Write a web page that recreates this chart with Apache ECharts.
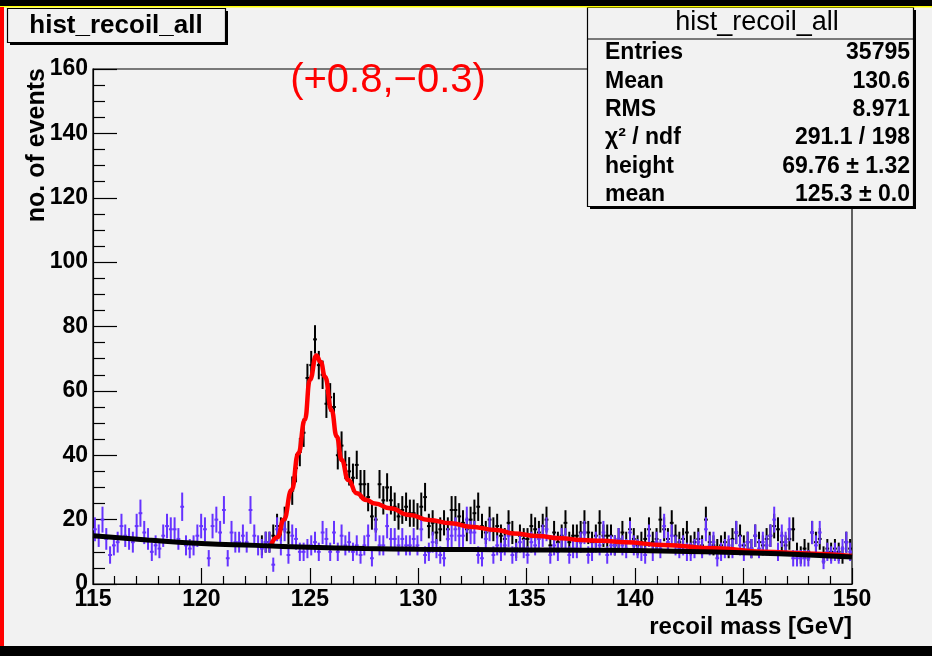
<!DOCTYPE html>
<html>
<head>
<meta charset="utf-8">
<title>hist_recoil_all</title>
<script src="https://cdn.jsdelivr.net/npm/echarts@6.0.0/dist/echarts.min.js"></script>
<style>
	html, body {
		margin: 0;
		padding: 0;
		background: #f2f2f2;
	}
	#main {
		width: 932px;
		height: 656px;
	}
</style>
</head>
<body>
<div id="main"></div>
<script>
	// histogram binning (GeV)
	var binLow = 115;
	var binWidth = 0.175;

	// background-only sample, 200 bins from 115 to 150
	var blueCounts = [
		17, 15, 20, 14, 9, 12, 13, 18, 15, 14,
		13, 18, 22, 16, 14, 10, 12, 11, 15, 18,
		17, 17, 14, 24, 12, 11, 12, 15, 18, 17,
		8, 18, 20, 16, 23, 8, 16, 13, 13, 15,
		13, 23, 15, 12, 11, 13, 13, 6, 17, 12,
		17, 9, 15, 14, 10, 10, 11, 12, 13, 10,
		16, 14, 10, 16, 10, 15, 12, 13, 10, 12,
		9, 12, 15, 8, 17, 12, 12, 18, 14, 14,
		12, 14, 12, 12, 14, 12, 17, 9, 10, 13,
		11, 9, 8, 14, 15, 17, 15, 15, 20, 16,
		16, 9, 8, 14, 17, 9, 12, 10, 12, 15,
		9, 10, 13, 11, 9, 13, 12, 14, 15, 17,
		9, 12, 10, 14, 14, 9, 11, 11, 13, 16,
		9, 10, 13, 12, 16, 9, 12, 12, 14, 12,
		11, 16, 12, 11, 10, 9, 15, 10, 13, 11,
		18, 13, 15, 12, 11, 12, 10, 10, 11, 13,
		11, 17, 12, 13, 8, 10, 11, 12, 11, 16,
		12, 10, 13, 11, 15, 11, 13, 12, 15, 20,
		10, 15, 13, 17, 8, 8, 8, 8, 8, 16,
		12, 16, 7, 10, 9, 10, 9, 11, 13, 10
	];

	// signal + background sample, visible from bin 44 on (below it sits under the blue points)
	var blackStartBin = 44;
	var blackCounts = [
		12, 13, 13, 15, 18, 17, 20, 16, 29, 36,
		41, 47, 64, 68, 76, 68, 65, 56, 58, 55,
		40, 43, 37, 35, 33, 37, 31, 31, 27, 21,
		20, 31, 26, 30, 26, 24, 21, 23, 24, 22,
		22, 21, 24, 27, 18, 19, 16, 17, 19, 17,
		23, 23, 21, 19, 17, 20, 22, 24, 18, 16,
		20, 17, 18, 15, 14, 19, 16, 11, 15, 14,
		14, 18, 17, 16, 18, 20, 12, 16, 13, 15,
		19, 13, 15, 15, 16, 19, 16, 13, 15, 19,
		15, 15, 15, 12, 14, 16, 13, 17, 14, 12,
		13, 14, 17, 13, 14, 20, 17, 14, 19, 15,
		13, 14, 16, 12, 13, 14, 12, 20, 13, 12,
		11, 12, 13, 11, 14, 16, 15, 12, 13, 11,
		15, 13, 12, 14, 15, 18, 17, 13, 12, 14,
		17, 10, 9, 11, 10, 16, 13, 14, 9, 11,
		10, 11, 10, 9, 13, 11
	];

	// signal+background fit (red)
	var fitX = [123.2, 123.5, 123.8, 124.16, 124.47, 124.77, 125.0, 125.3, 125.5, 125.7,
		126.0, 126.24, 126.47, 126.77, 127.16, 127.6, 128.0, 128.7, 129.6, 130.5,
		131.5, 132.4, 133.6, 134.4, 135.5, 136.6, 137.5, 138.5, 139.5, 141.3,
		143.75, 145.9, 147.9, 150];
	var fitY = [12.0, 14.5, 20.0, 29.2, 40.6, 51.0, 63.4, 71.0, 69.0, 64.4,
		54.0, 45.8, 38.5, 32.3, 28.2, 26.1, 25.0, 23.5, 21.4, 19.9,
		18.9, 17.8, 16.8, 15.7, 14.9, 14.2, 13.7, 13.4, 13.0, 12.1,
		11.1, 10.0, 9.5, 8.7];

	// background fit (black)
	var bkgX = [115, 117.5, 120, 122.5, 125, 127.5, 130, 132.5, 135, 137.5, 140, 142.5, 145, 147.5, 150];
	var bkgY = [15.0, 13.7, 12.6, 12.0, 11.4, 11.0, 10.8, 10.7, 10.6, 10.5, 10.4, 10.1, 9.7, 9.2, 8.4];

	// stats box
	var statsTitle = 'hist_recoil_all';
	var statsLabels = ['Entries', 'Mean', 'RMS', 'χ² / ndf', 'height', 'mean'];
	var statsValues = ['35795', '130.6', '8.971', '291.1 / 198', '69.76 ± 1.32', '125.3 ± 0.0'];

	var font = '"Liberation Sans", Arial, Helvetica, sans-serif';

	// weighted histogram: error bars saturate for the large bins
	function binError(v) {
		return 0.9 * Math.sqrt(Math.min(v, 24));
	}

	function toPoints(counts, start) {
		return counts.map(function (v, k) {
			return [binLow + (start + k + 0.5) * binWidth, v, binError(v)];
		});
	}

	function crossRenderer(color) {
		return function (params, api) {
			var x = api.value(0);
			var y = api.value(1);
			var e = api.value(2);
			var c = api.coord([x, y]);
			var top = api.coord([x, y + e]);
			var bot = api.coord([x, Math.max(y - e, 0)]);
			var half = api.size([binWidth, 0])[0] / 2;
			return {
				type: 'group',
				children: [{
					type: 'line',
					shape: { x1: c[0], y1: top[1], x2: c[0], y2: bot[1] },
					style: { stroke: color, lineWidth: 2 }
				}, {
					type: 'line',
					shape: { x1: c[0] - half, y1: c[1], x2: c[0] + half, y2: c[1] },
					style: { stroke: color, lineWidth: 2 }
				}]
			};
		};
	}

	var statsGraphics = [];
	statsLabels.forEach(function (lab, k) {
		var yy = 53 + k * 28.3;
		statsGraphics.push({
			type: 'text', x: 605, y: yy, z: 30,
			style: { text: lab, font: 'bold 23px ' + font, fill: '#000', textAlign: 'left', textVerticalAlign: 'middle' }
		});
		statsGraphics.push({
			type: 'text', x: 910, y: yy, z: 30,
			style: { text: statsValues[k], font: 'bold 23px ' + font, fill: '#000', textAlign: 'right', textVerticalAlign: 'middle' }
		});
	});

	var chart = echarts.init(document.getElementById('main'));
	var option = {
		backgroundColor: '#f2f2f2',
		animation: false,
		grid: {
			left: 93,
			right: 80,
			top: 69,
			bottom: 72,
			show: true,
			borderColor: '#000',
			borderWidth: 1.2,
			backgroundColor: 'transparent'
		},
		xAxis: {
			type: 'value',
			min: 115,
			max: 150,
			interval: 5,
			axisLine: { lineStyle: { color: '#000', width: 1.2 } },
			axisTick: { inside: true, length: 16, lineStyle: { color: '#000', width: 1.2 } },
			minorTick: { show: true, splitNumber: 5, length: 8, lineStyle: { color: '#000', width: 1.2 } },
			axisLabel: { margin: 4, color: '#000', fontSize: 23, fontWeight: 'bold', fontFamily: font },
			splitLine: { show: false }
		},
		yAxis: {
			type: 'value',
			min: 0,
			max: 160,
			interval: 20,
			axisLine: { show: true, lineStyle: { color: '#000', width: 1.2 } },
			axisTick: { show: true, inside: true, length: 24, lineStyle: { color: '#000', width: 1.2 } },
			minorTick: { show: true, splitNumber: 4, length: 12, lineStyle: { color: '#000', width: 1.2 } },
			axisLabel: { margin: 5, color: '#000', fontSize: 23, fontWeight: 'bold', fontFamily: font },
			splitLine: { show: false }
		},
		series: [{
			name: 'signal+bkg',
			type: 'custom',
			renderItem: crossRenderer('#000000'),
			data: toPoints(blackCounts, blackStartBin),
			z: 2
		}, {
			name: 'bkg',
			type: 'custom',
			renderItem: crossRenderer('#6633ff'),
			data: toPoints(blueCounts, 0),
			z: 3
		}, {
			name: 'fit',
			type: 'line',
			data: fitX.map(function (x, k) { return [x, fitY[k]]; }),
			smooth: true,
			smoothMonotone: 'x',
			showSymbol: false,
			lineStyle: { color: '#ff0000', width: 4.5 },
			z: 4
		}, {
			name: 'bkg fit',
			type: 'line',
			data: bkgX.map(function (x, k) { return [x, bkgY[k]]; }),
			smooth: true,
			showSymbol: false,
			lineStyle: { color: '#000000', width: 5 },
			z: 5
		}],
		graphic: [
			// canvas edges
			{ type: 'rect', shape: { x: 0, y: 0, width: 932, height: 6 }, style: { fill: '#000' }, z: 40 },
			{ type: 'rect', shape: { x: 0, y: 6, width: 932, height: 1.5 }, style: { fill: '#ffff00' }, z: 40 },
			{ type: 'rect', shape: { x: 0, y: 7, width: 4, height: 649 }, style: { fill: '#ff0000' }, z: 40 },
			{ type: 'rect', shape: { x: 0, y: 646, width: 932, height: 10 }, style: { fill: '#000' }, z: 40 },

			// title pave
			{ type: 'rect', shape: { x: 10, y: 11, width: 218, height: 34 }, style: { fill: '#000' }, z: 20 },
			{ type: 'rect', shape: { x: 7.5, y: 8.5, width: 218, height: 34 }, style: { fill: '#f2f2f2', stroke: '#000', lineWidth: 1.2 }, z: 21 },
			{ type: 'text', x: 116, y: 26, z: 22, style: { text: 'hist_recoil_all', font: 'bold 26px ' + font, fill: '#000', textAlign: 'center', textVerticalAlign: 'middle' } },

			// stats pave
			{ type: 'rect', shape: { x: 590, y: 10, width: 326, height: 199 }, style: { fill: '#000' }, z: 20 },
			{ type: 'rect', shape: { x: 587.5, y: 7.5, width: 326, height: 199 }, style: { fill: '#f2f2f2', stroke: '#000', lineWidth: 1.2 }, z: 21 },
			{ type: 'line', shape: { x1: 587.5, y1: 39, x2: 913.5, y2: 39 }, style: { stroke: '#000', lineWidth: 1.2 }, z: 22 },
			{ type: 'text', x: 757, y: 23, z: 30, style: { text: statsTitle, font: '27px ' + font, fill: '#000', textAlign: 'center', textVerticalAlign: 'middle' } }
		].concat(statsGraphics).concat([
			// axis titles
			{ type: 'text', x: 37, y: 68, rotation: Math.PI / 2, z: 30, style: { text: 'no. of events', font: 'bold 25px ' + font, fill: '#000', textAlign: 'right', textVerticalAlign: 'middle' } },
			{ type: 'text', x: 852, y: 627, z: 30, style: { text: 'recoil mass [GeV]', font: 'bold 24px ' + font, fill: '#000', textAlign: 'right', textVerticalAlign: 'middle' } },
			// shift annotation
			{ type: 'text', x: 388, y: 81, z: 30, style: { text: '(+0.8,\u22120.3)', font: '40px ' + font, fill: '#ff0000', textAlign: 'center', textVerticalAlign: 'middle' } }
		])
	};
	chart.setOption(option);
</script>
</body>
</html>
